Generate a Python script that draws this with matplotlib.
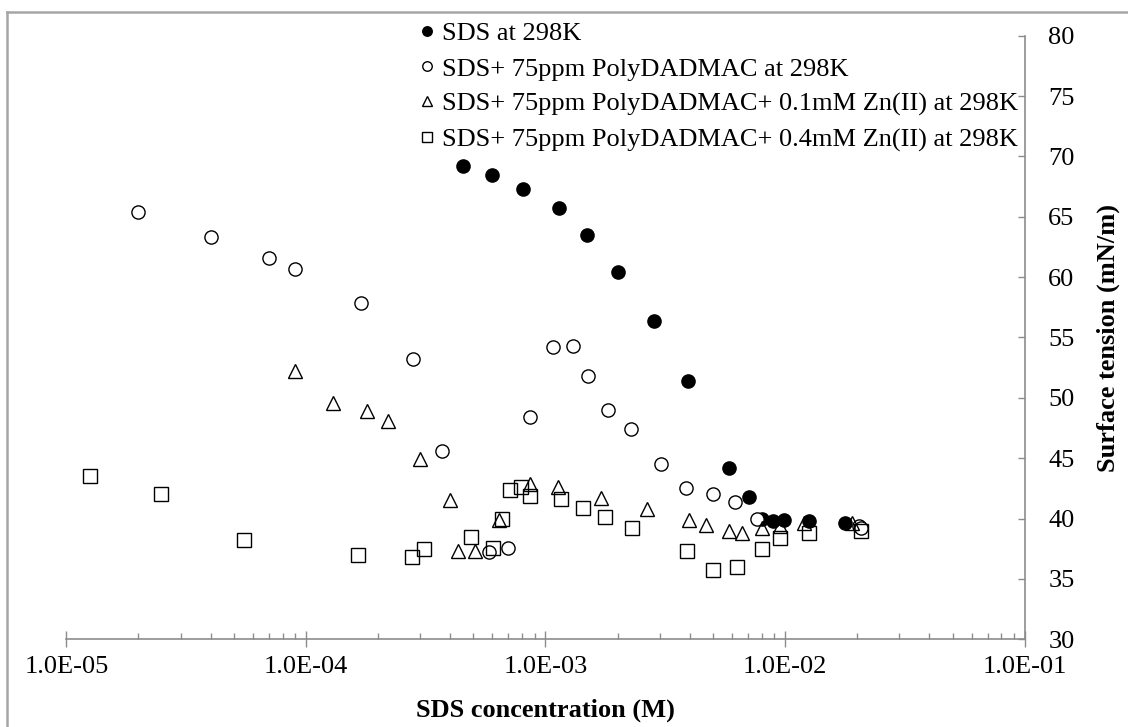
import numpy as np
import matplotlib
matplotlib.use("Agg")
import matplotlib.pyplot as plt
from matplotlib.lines import Line2D
from matplotlib.ticker import FuncFormatter, LogLocator, NullFormatter

plt.rcParams['font.family'] = ['Liberation Serif', 'DejaVu Serif']

# SDS at 298K
sds_x = [4.51e-4, 5.96e-4, 8.08e-4, 1.135e-3, 1.486e-3, 2.01e-3, 2.84e-3, 3.92e-3,
         5.85e-3, 7.08e-3, 8.0e-3, 8.9e-3, 9.9e-3, 1.26e-2, 1.78e-2]
sds_y = [69.2, 68.5, 67.3, 65.7, 63.5, 60.4, 56.4, 51.4,
         44.2, 41.8, 40.0, 39.8, 39.9, 39.8, 39.6]

# SDS + 75ppm PolyDADMAC
poly_x = [2.0e-5, 4.0e-5, 7.0e-5, 9.0e-5, 1.7e-4, 2.81e-4, 3.69e-4, 5.8e-4, 6.98e-4,
          8.61e-4, 1.07e-3, 1.30e-3, 1.51e-3, 1.82e-3, 2.28e-3, 3.03e-3, 3.86e-3,
          5.0e-3, 6.2e-3, 7.65e-3, 2.03e-2, 2.07e-2]
poly_y = [65.4, 63.35, 61.6, 60.7, 57.85, 53.2, 45.6, 37.25, 37.55,
          48.4, 54.2, 54.3, 51.8, 49.0, 47.4, 44.5, 42.5,
          42.0, 41.4, 40.0, 39.4, 39.2]

# + 0.1mM Zn(II)
zn1_x = [9.0e-5, 1.3e-4, 1.8e-4, 2.21e-4, 2.99e-4, 3.99e-4, 4.3e-4, 5.09e-4, 6.42e-4,
         8.59e-4, 1.13e-3, 1.71e-3, 2.64e-3, 3.96e-3, 4.67e-3, 5.82e-3, 6.6e-3,
         8.0e-3, 9.5e-3, 1.2e-2, 1.9e-2]
zn1_y = [52.2, 49.6, 48.9, 48.1, 44.9, 41.5, 37.3, 37.3, 39.9,
         42.9, 42.6, 41.7, 40.8, 39.9, 39.5, 39.0, 38.8,
         39.2, 39.4, 39.6, 39.6]

# + 0.4mM Zn(II)
zn4_x = [1.25e-5, 2.49e-5, 5.5e-5, 1.65e-4, 2.78e-4, 3.12e-4, 4.9e-4, 6.04e-4, 6.6e-4,
         7.13e-4, 7.9e-4, 8.64e-4, 1.157e-3, 1.43e-3, 1.77e-3, 2.29e-3, 3.88e-3,
         5.0e-3, 6.3e-3, 8.0e-3, 9.5e-3, 1.26e-2, 2.07e-2]
zn4_y = [43.5, 42.0, 38.2, 37.0, 36.8, 37.45, 38.5, 37.6, 40.0,
         42.4, 42.6, 41.9, 41.6, 40.9, 40.15, 39.2, 37.3,
         35.7, 36.0, 37.5, 38.4, 38.8, 39.0]

labels = ['SDS at 298K',
          'SDS+ 75ppm PolyDADMAC at 298K',
          'SDS+ 75ppm PolyDADMAC+ 0.1mM Zn(II) at 298K',
          'SDS+ 75ppm PolyDADMAC+ 0.4mM Zn(II) at 298K']

W, H = 1128, 727
fig = plt.figure(figsize=(W / 100, H / 100), dpi=100)
ax = fig.add_axes([66.3 / W, 1 - 639.3 / H, (1024.7 - 66.3) / W, (639.3 - 35.7) / H])

grey = '#8c8c8c'
ms = 9.5
ax.plot(sds_x, sds_y, 'o', ms=ms, mfc='black', mec='black', ls='none', label=labels[0])
ax.plot(poly_x, poly_y, 'o', ms=ms, mfc='white', mec='black', mew=1.0, ls='none', label=labels[1])
ax.plot(zn1_x, zn1_y, '^', ms=ms + 0.5, mfc='none', mec='black', mew=1.0, ls='none', label=labels[2])
ax.plot(zn4_x, zn4_y, 's', ms=ms, mfc='none', mec='black', mew=1.0, ls='none', label=labels[3])

ax.set_xscale('log')
ax.set_xlim(1e-5, 1e-1)
ax.set_ylim(30, 80)

for s in ['left', 'top']:
    ax.spines[s].set_visible(False)
for s in ['bottom', 'right']:
    ax.spines[s].set_color(grey)
    ax.spines[s].set_linewidth(1.2)

ax.yaxis.tick_right()
ax.yaxis.set_label_position('right')
ax.set_yticks(np.arange(30, 81, 5))
ax.tick_params(axis='y', which='major', direction='in', length=5, width=1, color=grey,
               labelsize=19, pad=17)

ax.xaxis.set_major_locator(LogLocator(base=10, numticks=10))
ax.xaxis.set_minor_locator(LogLocator(base=10, subs=np.arange(2, 10), numticks=20))
ax.xaxis.set_minor_formatter(NullFormatter())
ax.xaxis.set_major_formatter(FuncFormatter(lambda v, p: '{:.1E}'.format(v)))
ax.tick_params(axis='x', which='major', direction='inout', length=12, width=1, color=grey,
               labelsize=19, pad=6)
ax.tick_params(axis='x', which='minor', direction='in', length=4.5, width=1, color=grey)

ax.set_xlabel('SDS concentration (M)', fontsize=19, fontweight='bold', labelpad=15)
ax.set_ylabel('Surface tension (mN/m)', fontsize=19, fontweight='bold', labelpad=16)

ax.legend(loc='upper left', bbox_to_anchor=(421 / W, 1 - 22 / H), bbox_transform=fig.transFigure,
          frameon=False, fontsize=19, handlelength=0.45, handletextpad=0.35, labelspacing=0.44,
          borderpad=0, borderaxespad=0, markerscale=0.72)

# outer frame (left and top edges only are visible)
fig.add_artist(Line2D([7 / W, 7 / W], [0, 1 - 12 / H], transform=fig.transFigure,
                      color='#a6a6a6', lw=1.8))
fig.add_artist(Line2D([7 / W, 1], [1 - 12 / H, 1 - 12 / H], transform=fig.transFigure,
                      color='#a6a6a6', lw=1.8))

fig.savefig('out.png', dpi=100)
plt.close(fig)
